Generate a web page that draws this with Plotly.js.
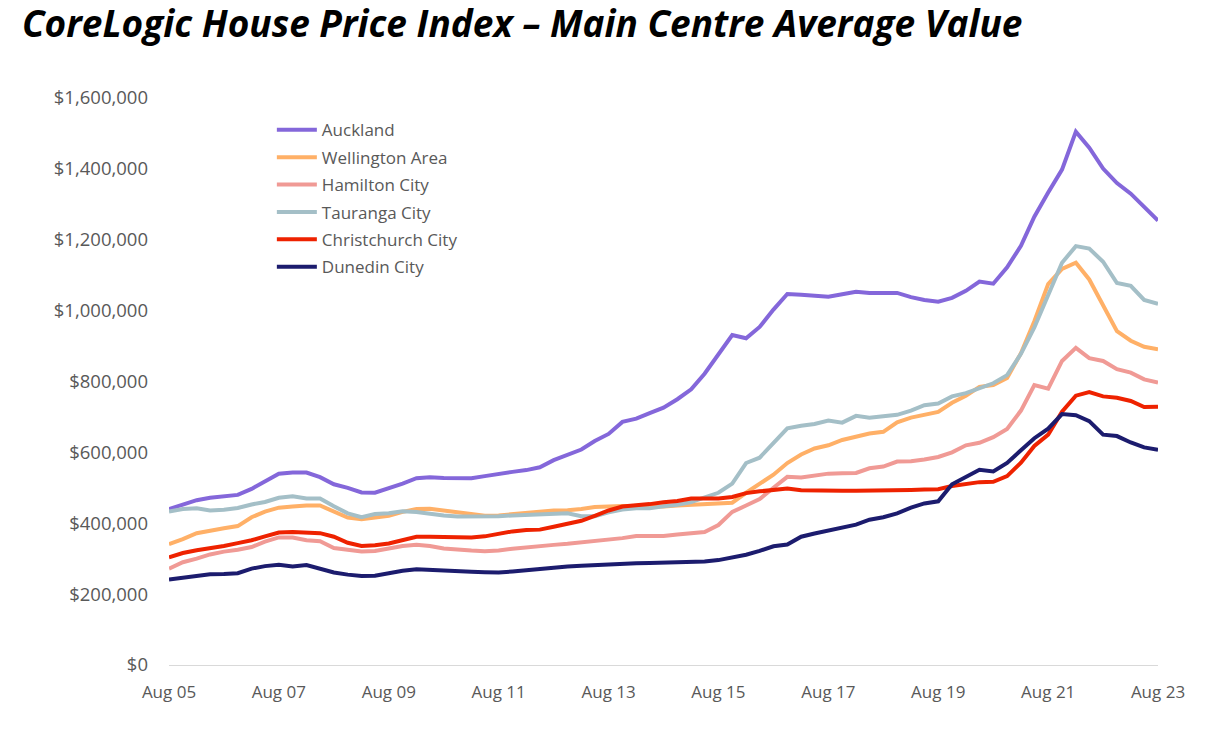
<!DOCTYPE html>
<html>
<head>
<meta charset="utf-8">
<script src="https://cdn.plot.ly/plotly-3.0.1.min.js"></script>
<style>
html,body{margin:0;padding:0;background:#fff;}
#chart{width:1228px;height:740px;}
</style>
</head>
<body>
<div id="chart"></div>
<script>
// Quarterly dates (Aug 2005 – Aug 2023)
var dates = [
"2005-08","2005-11","2006-02","2006-05","2006-08","2006-11","2007-02","2007-05",
"2007-08","2007-11","2008-02","2008-05","2008-08","2008-11","2009-02","2009-05",
"2009-08","2009-11","2010-02","2010-05","2010-08","2010-11","2011-02","2011-05",
"2011-08","2011-11","2012-02","2012-05","2012-08","2012-11","2013-02","2013-05",
"2013-08","2013-11","2014-02","2014-05","2014-08","2014-11","2015-02","2015-05",
"2015-08","2015-11","2016-02","2016-05","2016-08","2016-11","2017-02","2017-05",
"2017-08","2017-11","2018-02","2018-05","2018-08","2018-11","2019-02","2019-05",
"2019-08","2019-11","2020-02","2020-05","2020-08","2020-11","2021-02","2021-05",
"2021-08","2021-11","2022-02","2022-05","2022-08","2022-11","2023-02","2023-05",
"2023-08"
];

// Average values in $000
var auckland = [440,452,465,472,475,480,497,518,540,543,543,530,510,500,487,486,
498,512,527,530,528,527,527,533,540,545,550,558,578,592,608,632,
652,686,695,711,726,750,778,822,876,931,922,954,1003,1047,1045,1042,
1039,1046,1053,1050,1050,1050,1038,1030,1025,1036,1056,1082,1076,1122,
1183,1265,1333,1398,1505,1460,1401,1360,1330,1293,1254];

var wellington = [341,355,372,380,386,392,417,433,444,447,450,450,433,416,411,415,
421,432,440,441,436,431,426,421,422,426,430,434,436,437,440,446,
448,449,449,448,447,450,452,455,457,458,486,510,537,570,594,611,
620,635,645,653,658,685,698,706,714,740,760,785,790,810,
880,970,1075,1118,1135,1088,1015,942,915,898,891];

var hamilton = [272,290,300,312,320,325,333,348,360,360,352,349,330,325,320,322,
330,336,339,336,329,325,323,321,323,328,332,337,339,342,346,349,
352,358,364,364,364,368,372,375,395,432,450,468,500,531,529,535,
540,541,542,555,560,574,575,580,587,600,620,627,643,666,
718,790,780,858,895,866,858,835,825,806,797];

var tauranga = [433,440,442,436,438,443,453,460,472,476,470,470,448,428,417,426,
428,434,432,426,422,419,419,419,420,422,424,426,427,428,420,420,
431,439,442,442,448,452,460,472,486,512,570,585,625,668,675,680,
690,684,703,698,702,706,718,733,738,758,767,781,795,818,
878,953,1044,1135,1182,1175,1138,1078,1070,1030,1019];

var christchurch = [304,316,324,329,336,344,352,363,374,375,373,372,362,345,336,338,
343,352,362,362,361,359,360,363,371,377,381,382,390,399,407,421,
436,447,450,454,459,463,470,470,470,474,485,490,493,498,493,492,
492,492,492,492,492,493,494,495,496,505,511,516,517,533,
571,618,650,715,760,770,758,754,745,728,729];

var dunedin = [241,246,252,256,257,259,272,279,283,278,282,273,261,255,251,252,
259,266,270,268,266,263,263,262,261,264,268,272,276,278,280,282,
285,286,287,288,289,289,289,292,296,303,311,322,335,340,362,371,
380,388,396,410,417,428,444,456,462,510,532,551,546,570,
606,640,667,708,705,688,650,646,628,614,607];

var seriesNames = ["Auckland","Wellington Area","Hamilton City","Tauranga City","Christchurch City","Dunedin City"];
var seriesValues = [auckland, wellington, hamilton, tauranga, christchurch, dunedin];
var seriesColors = ["#8467DA","#FFB067","#F09A95","#A4BFC7","#EE2200","#1C1C6E"];

var xTickVals = ["2005-08-01","2007-08-01","2009-08-01","2011-08-01","2013-08-01","2015-08-01","2017-08-01","2019-08-01","2021-08-01","2023-08-01"];
var xTickText = ["Aug 05","Aug 07","Aug 09","Aug 11","Aug 13","Aug 15","Aug 17","Aug 19","Aug 21","Aug 23"];
var yTickVals = [0,200000,400000,600000,800000,1000000,1200000,1400000,1600000];
var yTickText = ["$0","$200,000","$400,000","$600,000","$800,000","$1,000,000","$1,200,000","$1,400,000","$1,600,000"];

var FONT = "'Open Sans', 'Noto Sans', sans-serif";

var traces = seriesNames.map(function(name, i){
  return {
    x: dates,
    y: seriesValues[i].map(function(v){ return v * 1000; }),
    name: name,
    legendgroup: "g" + i,
    type: "scatter",
    mode: "lines",
    line: {color: seriesColors[i], width: 4},
    hoverinfo: "x+y+name"
  };
});

var layout = {
  width: 1228,
  height: 740,
  paper_bgcolor: "#ffffff",
  plot_bgcolor: "#ffffff",
  margin: {l: 169, r: 70, t: 98, b: 75},
  title: {
    text: "<b><i>CoreLogic House Price Index – Main Centre Average Value</i></b>",
    font: {family: FONT, size: 37, color: "#000000"},
    x: 0.0179, xanchor: "left", xref: "container",
    y: 0.968, yanchor: "middle", yref: "container"
  },
  xaxis: {
    type: "date",
    range: ["2005-08-01","2023-08-01"],
    tickvals: xTickVals,
    ticktext: xTickText,
    showgrid: false,
    zeroline: false,
    showline: true,
    linecolor: "#D9D9D9",
    linewidth: 1,
    ticks: "",
    ticklabelstandoff: 12,
    tickfont: {family: FONT, size: 17, color: "#595959"}
  },
  yaxis: {
    range: [0, 1600000],
    tickvals: yTickVals,
    ticktext: yTickText,
    showgrid: false,
    zeroline: false,
    showline: false,
    ticks: "",
    ticklabelstandoff: 20,
    tickfont: {family: FONT, size: 18.5, color: "#595959"}
  },
  showlegend: true,
  legend: {
    x: 0.104, y: 0.975, xanchor: "left", yanchor: "top",
    bgcolor: "rgba(0,0,0,0)",
    font: {family: FONT, size: 17, color: "#595959"},
    itemwidth: 40,
    tracegroupgap: 2.3
  }
};

Plotly.newPlot("chart", traces, layout, {displayModeBar: false, staticPlot: true});
</script>
</body>
</html>
